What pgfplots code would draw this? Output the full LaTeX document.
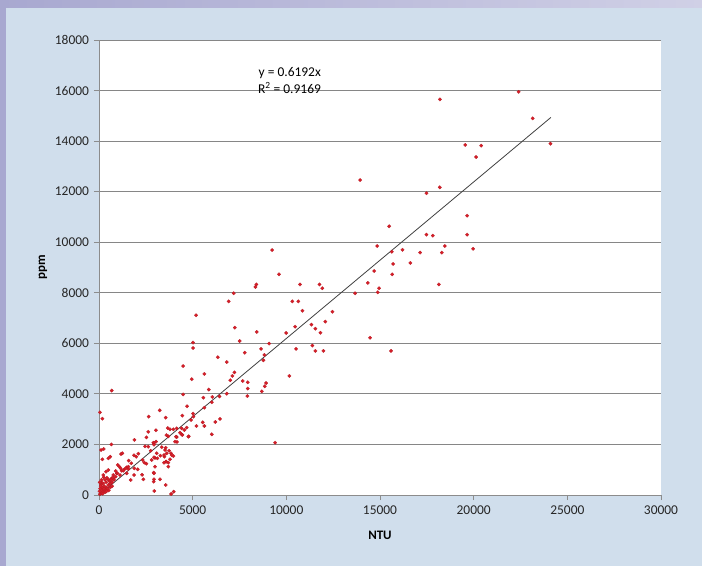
\documentclass[border=0pt]{standalone}
\usepackage{pgfplots}
\pgfplotsset{compat=1.18}
\usepackage{fontspec}
\setmainfont{Carlito}
\definecolor{bgblue}{RGB}{208,222,236}
\definecolor{lavL}{RGB}{168,168,208}
\definecolor{lavR}{RGB}{208,208,230}
\definecolor{ptred}{RGB}{214,30,40}
\definecolor{gridg}{RGB}{134,134,134}
\definecolor{axg}{RGB}{140,140,140}
\begin{document}
\begin{tikzpicture}
\shade[left color=lavL,right color=lavR] (-99bp,-71bp) rectangle (603bp,495bp);
\fill[bgblue] (-93bp,-71bp) rectangle (603bp,487bp);
\begin{axis}[
  at={(0,0)}, anchor=south west,
  scale only axis, width=562bp, height=455bp,
  xmin=0, xmax=30000, ymin=0, ymax=18000,
  xtick={0,5000,...,30000}, ytick={0,2000,...,18000},
  scaled ticks=false,
  /pgf/number format/1000 sep={},
  /pgf/number format/assume math mode=true,
  axis background/.style={fill=white},
  axis x line*=bottom, axis y line*=left,
  axis line style={axg, line width=0.8pt},
  x axis line style={-}, y axis line style={-},
  ymajorgrids, major grid style={gridg, line width=0.9pt},
  tick style={axg, line width=0.8pt},
  tick align=outside, major tick length=5bp,
  ticklabel style={font=\fontsize{13.5}{15}\selectfont, text=black!85},
  xticklabel style={yshift=-2bp},
  yticklabel style={xshift=-1.5bp},
  xlabel={\textbf{NTU}}, ylabel={\textbf{ppm}},
  xlabel style={font=\fontsize{13}{15}\selectfont, at={([yshift=-40bp]axis description cs:0.5,0)}, anchor=center},
  ylabel style={font=\fontsize{13}{15}\selectfont, at={([xshift=-56bp]axis description cs:0,0.5)}, anchor=center, rotate=0},
  clip=false,
]
\addplot[only marks, mark=*, mark size=1.75bp, mark options={fill=ptred, draw=ptred!85!black, line width=0.2pt}] table {
x y
22400 15950
18200 15650
23150 14900
24100 13900
19550 13850
20400 13820
20130 13370
13940 12460
18190 12170
17480 11940
19650 11050
15490 10630
17480 10300
17820 10260
19650 10300
18460 9850
14850 9850
17140 9590
18300 9590
19970 9740
15630 9625
16200 9700
15700 9140
16620 9180
14690 8860
15650 8730
14350 8390
14950 8180
14880 8020
13670 7980
18140 8330
11770 8330
11920 8180
10730 8330
10860 7290
12460 7250
12080 6860
11340 6740
11550 6580
11820 6420
14470 6220
11390 5910
11550 5700
11980 5700
15590 5700
9240 9690
9610 8730
8400 8330
8350 8230
7190 7980
6920 7660
10320 7660
10640 7660
5180 7110
7250 6620
8420 6450
10470 6660
9990 6410
7510 6090
9080 5990
5020 6030
5020 5815
8650 5780
10520 5780
7780 5630
6340 5450
8830 5540
8775 5330
6820 5260
4490 5100
10160 4710
5625 4790
7230 4850
7120 4710
7010 4540
7670 4510
7940 4460
7940 4210
7920 3915
8920 4430
8850 4300
8690 4100
4950 4580
4490 3980
5860 4170
6050 3880
5570 3850
6020 3670
6820 4010
6430 3900
5625 3455
4700 3510
5020 3220
4450 3140
3240 3350
2650 3100
3560 3060
6460 3010
6210 2890
5535 2875
5625 2730
6020 2400
4913 2967
5040 3100
3670 2650
4410 2640
5200 2730
4790 2320
4410 2400
4150 2290
4165 2100
3600 2370
3040 2560
2530 2280
1890 2180
2630 1910
680 4130
50 3270
180 3020
660 2000
9400 2070
110 1780
250 1820
1175 1620
600 1515
180 1410
2630 2500
3700 2320
2460 1925
2900 2070
2760 1750
3350 1890
3560 1870
3740 1750
3845 1650
3080 1650
3275 1555
3490 1515
2990 1465
2810 1385
3580 1320
3700 1280
3970 1540
2530 1240
2420 1280
2330 1385
2100 1635
1870 1570
1990 1515
1585 1360
1725 1255
1478 1094
1353 1016
1211 961
1566 1028
1245 1650
500 1450
1000 1190
1086 1121
1157 1055
890 950
945 858
374 923
498 989
231 791
765 791
676 660
587 593
1478 858
1886 1055
2065 1016
1690 593
1870 791
2368 620
2919 884
2919 528
3560 396
3988 132
2954 158
2990 1121
4680 2664
4557 2571
4450 2374
4770 2308
4112 2308
4058 2110
4147 2637
3970 2598
3790 2598
4325 2466
3044 2110
2937 2060
2937 1990
3524 1780
3614 1648
3471 1582
3880 1582
3790 1411
3578 1319
3471 1279
3700 1121
3115 1450
2937 1490
2937 858
2937 620
3257 620
3850 40
2300 800
748 660
890 725
1121 791
979 858
1300 961
1424 1055
1566 1121
50 30
80 60
100 120
150 80
200 150
120 200
250 100
300 200
180 300
350 250
400 300
280 350
450 250
500 400
220 450
380 500
600 450
550 550
150 500
320 600
480 620
650 600
700 500
420 680
100 400
60 250
30 150
200 50
350 120
600 300
750 680
260 250
90 350
520 180
130 600
40 500
250 700
400 150
700 350
800 600
};
\addplot[black!75, line width=0.8pt] coordinates {(0,0) (24121,14936)};
\node[anchor=east, font=\fontsize{13.5}{15}\selectfont, inner sep=0pt] at (axis cs:11855,16694) {y = 0.6192x};
\node[anchor=east, font=\fontsize{13.5}{15}\selectfont, inner sep=0pt] at (axis cs:11855,16101) {R\textsuperscript{2} = 0.9169};
\end{axis}
\end{tikzpicture}
\end{document}
